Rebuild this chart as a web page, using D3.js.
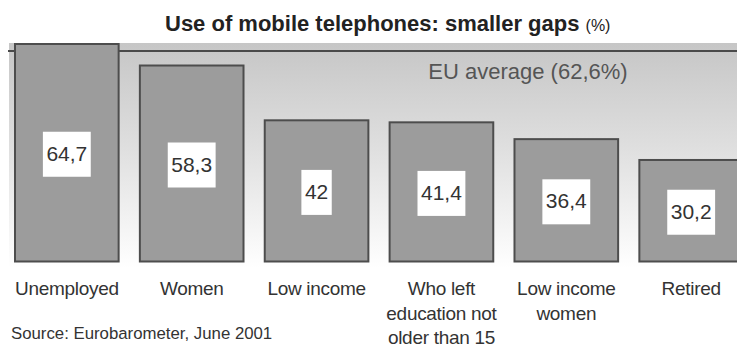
<!DOCTYPE html>
<html>
<head>
<meta charset="utf-8">
<script src="https://cdn.jsdelivr.net/npm/d3@7"></script>
<style>
  body { margin: 0; background: #fff; }
  svg { display: block; font-family: Arial, "Liberation Sans", sans-serif; }
</style>
</head>
<body>
<script>
// data
var categories = ["Unemployed", "Women", "Low income", "Who left education not older than 15", "Low income women", "Retired"];
var labelLines = [["Unemployed"], ["Women"], ["Low income"], ["Who left", "education not", "older than 15"], ["Low income", "women"], ["Retired"]];
var values = [64.7, 58.3, 42, 41.4, 36.4, 30.2];
var valueLabels = ["64,7", "58,3", "42", "41,4", "36,4", "30,2"];
var euAverage = 62.6;
var euLabel = "EU average (62,6%)";

var width = 737, height = 347;

var svg = d3.select("body").append("svg")
    .attr("width", width)
    .attr("height", height);

var x = d3.scaleBand()
    .domain(categories)
    .range([15, 743])
    .paddingInner(0.17)
    .paddingOuter(0);

var y = d3.scaleLinear()
    .domain([0, 64.7])
    .range([261.5, 44]);

// grey gradient panel behind the bars
var grad = svg.append("defs").append("linearGradient")
    .attr("id", "panel")
    .attr("x1", 0).attr("y1", 0).attr("x2", 0).attr("y2", 1);
grad.append("stop").attr("offset", "0%").attr("stop-color", "#c6c6c6");
grad.append("stop").attr("offset", "45%").attr("stop-color", "#dedede");
grad.append("stop").attr("offset", "100%").attr("stop-color", "#ffffff");

svg.append("rect")
    .attr("x", 9)
    .attr("y", 43)
    .attr("width", width - 9)
    .attr("height", 225)
    .attr("fill", "url(#panel)");

// EU average line
var yAvg = y(euAverage);
svg.append("line")
    .attr("x1", 8).attr("x2", width)
    .attr("y1", yAvg).attr("y2", yAvg)
    .attr("stroke", "#4a4a4a")
    .attr("stroke-width", 2);

svg.append("text")
    .attr("x", 528)
    .attr("y", yAvg + 28)
    .attr("text-anchor", "middle")
    .attr("fill", "#555")
    .style("font-size", "22px")
    .text(euLabel);

// bars
var bars = svg.selectAll("g.bar")
    .data(values)
    .join("g")
        .attr("class", "bar");

bars.append("rect")
    .attr("x", (d, i) => x(categories[i]))
    .attr("y", d => y(d))
    .attr("width", x.bandwidth())
    .attr("height", d => y(0) - y(d))
    .attr("fill", "#9c9c9c")
    .attr("stroke", "#4d4d4d")
    .attr("stroke-width", 2);

// white value boxes in the middle of each bar
bars.each(function (d, i) {
    var g = d3.select(this);
    var cx = x(categories[i]) + x.bandwidth() / 2,
        cy = (y(d) + y(0)) / 2;
    var t = g.append("text")
        .attr("x", cx)
        .attr("y", cy + 8)
        .attr("text-anchor", "middle")
        .attr("fill", "#333")
        .style("font-size", "21px")
        .text(valueLabels[i]);
    var w = t.node().getComputedTextLength() + 7;
    g.insert("rect", "text")
        .attr("x", cx - w / 2)
        .attr("y", cy - 21)
        .attr("width", w)
        .attr("height", 45)
        .attr("fill", "#fff");
});

// category labels
svg.selectAll("text.cat")
    .data(labelLines)
    .join("text")
        .attr("class", "cat")
        .attr("text-anchor", "middle")
        .attr("fill", "#333")
        .style("font-size", "19px")
        .style("letter-spacing", "-0.3px")
        .attr("transform", (d, i) => "translate(" + (x(categories[i]) + x.bandwidth() / 2) + ",295)")
    .selectAll("tspan")
    .data(d => d)
    .join("tspan")
        .attr("x", 0)
        .attr("y", (d, j) => j * 24.5)
        .text(d => d);

// title
var title = svg.append("text")
    .attr("x", 165)
    .attr("y", 31)
    .attr("fill", "#222");
title.append("tspan")
    .style("font-size", "22px")
    .style("font-weight", "bold")
    .text("Use of mobile telephones: smaller gaps ");
title.append("tspan")
    .style("font-size", "16px")
    .text("(%)");

svg.append("text")
    .attr("x", 11)
    .attr("y", 339)
    .attr("fill", "#333")
    .style("font-size", "16.8px")
    .text("Source: Eurobarometer,  June 2001");
</script>
</body>
</html>
